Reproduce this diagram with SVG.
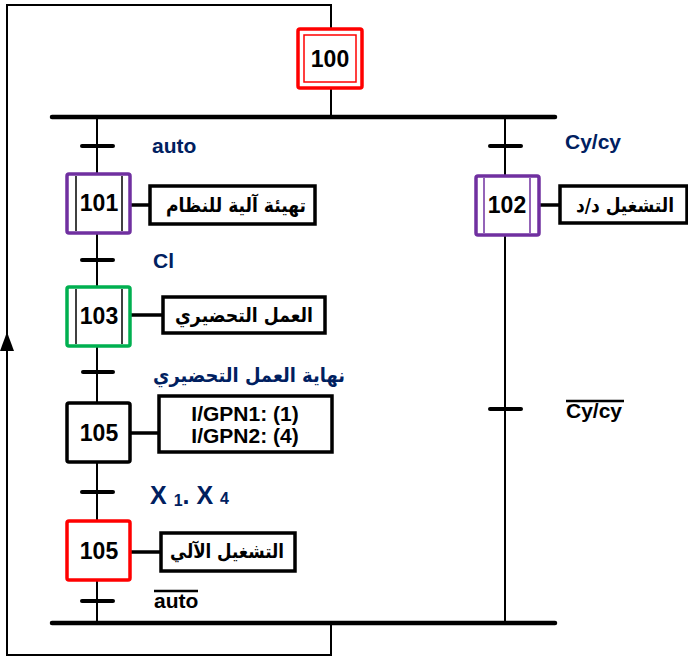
<svg xmlns="http://www.w3.org/2000/svg" width="688" height="657" viewBox="0 0 688 657">
<style>
.step{fill:#fff;stroke-width:3.5}
.act{fill:#fff;stroke:#000;stroke-width:3.5}
.num{font-family:"Liberation Sans",Arial,sans-serif;font-weight:bold;font-size:23px;text-anchor:middle;fill:#000}
.ar{font-family:"DejaVu Sans","Noto Sans",sans-serif;font-weight:bold;font-size:19.5px;text-anchor:middle;fill:#000}
.lbl{font-family:"Liberation Sans",Arial,sans-serif;font-weight:bold;font-size:21px;fill:#002060}
.lblk{font-family:"Liberation Sans",Arial,sans-serif;font-weight:bold;font-size:21px;fill:#000}
.ln{stroke:#000;stroke-width:2;fill:none}
.bar{stroke:#000;stroke-width:4.5;stroke-linecap:round}
.tick{stroke:#000;stroke-width:4;stroke-linecap:round}
.wire{stroke:#000;stroke-width:3.5}
</style>
<g id="connectors">
<polyline class="ln" points="331,623 331,655 7,655 7,5 331,5 331,28"/>
<polygon points="7,332 0,351 14,351" fill="#000"/>
<line class="ln" x1="331" y1="88" x2="331" y2="117"/>
<line class="bar" x1="52" y1="117" x2="555" y2="117"/>
<line class="bar" x1="52" y1="623" x2="555" y2="623"/>
<line class="ln" x1="97" y1="117" x2="97" y2="623"/>
<line class="ln" x1="505" y1="117" x2="505" y2="623"/>
<line class="tick" x1="82" y1="146" x2="113" y2="146"/>
<line class="tick" x1="490" y1="146" x2="521" y2="146"/>
<line class="tick" x1="82" y1="260" x2="113" y2="260"/>
<line class="tick" x1="83" y1="372" x2="113" y2="372"/>
<line class="tick" x1="82" y1="492" x2="113" y2="492"/>
<line class="tick" x1="82" y1="601" x2="113" y2="601"/>
<line class="tick" x1="490" y1="409" x2="521" y2="409"/>
<line class="wire" x1="131" y1="205" x2="150" y2="205"/>
<line class="wire" x1="539" y1="205" x2="560" y2="205"/>
<line class="wire" x1="131" y1="315" x2="163" y2="315"/>
<line class="wire" x1="131" y1="433" x2="159" y2="433"/>
<line class="wire" x1="131" y1="552" x2="161" y2="552"/>
</g>
<g id="step100">
<rect class="step" x="298" y="29" width="64" height="59" stroke="#ff0000" rx="2"/>
<rect x="304" y="35" width="52" height="47" fill="none" stroke="#ff0000" stroke-width="1.5"/>
<text class="num" x="330" y="67">100</text>
</g>
<g id="step101">
<rect class="step" x="67" y="174" width="63" height="59" stroke="#7030a0" rx="2"/>
<line x1="76" y1="176" x2="76" y2="231" stroke="#000" stroke-width="1.5"/>
<line x1="122" y1="176" x2="122" y2="231" stroke="#000" stroke-width="1.5"/>
<text class="num" x="99" y="211">101</text>
</g>
<g id="action101">
<rect class="act" x="150" y="186" width="165" height="38"/>
<text class="ar" x="236" y="212" direction="rtl" textLength="140" lengthAdjust="spacingAndGlyphs">تهيئة آلية للنظام</text>
</g>
<g id="step102">
<rect class="step" x="476" y="176" width="63" height="59" stroke="#7030a0" rx="2"/>
<line x1="484" y1="178" x2="484" y2="233" stroke="#7030a0" stroke-width="1.5"/>
<line x1="530" y1="178" x2="530" y2="233" stroke="#7030a0" stroke-width="1.5"/>
<text class="num" x="507" y="213">102</text>
</g>
<g id="action102">
<rect class="act" x="560" y="186" width="127" height="37"/>
<text class="ar" x="625" y="212" direction="rtl" textLength="98" lengthAdjust="spacingAndGlyphs">التشغيل د/د</text>
</g>
<g id="step103">
<rect class="step" x="67" y="287" width="63" height="59" stroke="#00b050" rx="2"/>
<line x1="76" y1="289" x2="76" y2="344" stroke="#000" stroke-width="1.5"/>
<line x1="122" y1="289" x2="122" y2="344" stroke="#000" stroke-width="1.5"/>
<text class="num" x="99" y="324">103</text>
</g>
<g id="action103">
<rect class="act" x="163" y="297" width="162" height="36"/>
<text class="ar" x="244" y="322" direction="rtl" textLength="138" lengthAdjust="spacingAndGlyphs">العمل التحضيري</text>
</g>
<g id="step105a">
<rect class="step" x="67" y="403" width="63" height="59" stroke="#000" rx="2"/>
<text class="num" x="99" y="441">105</text>
</g>
<g id="action105a">
<rect class="act" x="159" y="396" width="173" height="56"/>
<text class="lblk" x="245" y="421" text-anchor="middle">I/GPN1: (1)</text>
<text class="lblk" x="245" y="443" text-anchor="middle">I/GPN2: (4)</text>
</g>
<g id="step105b">
<rect class="step" x="67" y="521" width="63" height="59" stroke="#ff0000" rx="2"/>
<text class="num" x="99" y="559">105</text>
</g>
<g id="action105b">
<rect class="act" x="161" y="533" width="134" height="38"/>
<text class="ar" x="227" y="558" direction="rtl" textLength="114" lengthAdjust="spacingAndGlyphs">التشغيل الآلي</text>
</g>
<g id="labels">
<text class="lbl" x="152" y="153">auto</text>
<text class="lbl" x="565" y="149">Cy/cy</text>
<text class="lbl" x="153" y="268">Cl</text>
<text class="ar" x="249" y="382" direction="rtl" style="fill:#002060" textLength="192" lengthAdjust="spacingAndGlyphs">نهاية العمل التحضيري</text>
<text class="lbl" x="150" y="504" style="font-size:25px">X <tspan font-size="16" dy="2">1</tspan><tspan dy="-2">. X </tspan><tspan font-size="16">4</tspan></text>
<text class="lblk" x="154" y="608">auto</text>
<line x1="154" y1="591" x2="198" y2="591" stroke="#000" stroke-width="2.5"/>
<text class="lblk" x="566" y="418">Cy/cy</text>
<line x1="566" y1="401" x2="624" y2="401" stroke="#000" stroke-width="2.5"/>
</g>
</svg>
